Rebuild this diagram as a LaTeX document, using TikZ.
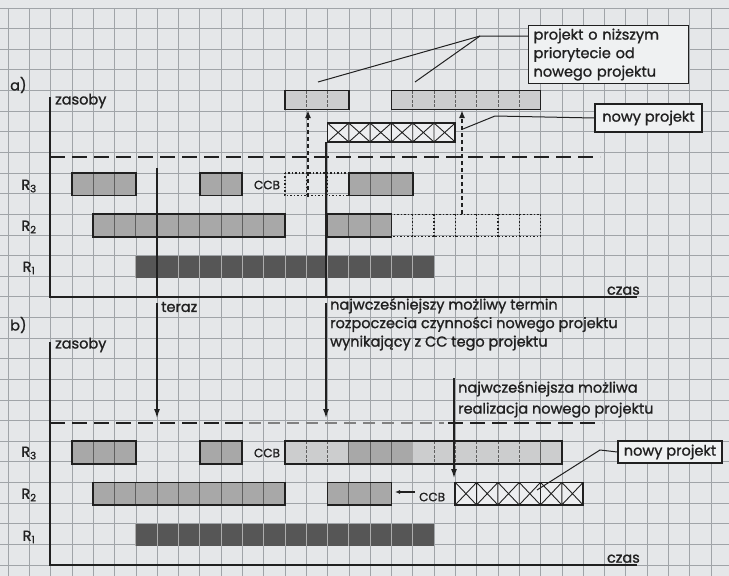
\documentclass[tikz,border=0pt]{standalone}
\usepackage{fontspec}
\setmainfont{Poppins}[FakeBold=1.2]
\usetikzlibrary{arrows.meta}
\definecolor{bgc}{RGB}{229,231,233}
\definecolor{gridc}{RGB}{160,164,168}
\definecolor{midc}{RGB}{168,168,168}
\definecolor{lowc}{RGB}{204,205,206}
\definecolor{darkc}{RGB}{86,86,86}
\definecolor{divc}{RGB}{95,95,95}
\definecolor{inkc}{RGB}{32,32,32}
\tikzset{
  gridline/.style={draw=gridc, line width=0.6pt},
  axisline/.style={draw=inkc, line width=2.2pt},
  barborder/.style={draw=inkc, line width=1.8pt},
  celldiv/.style={draw=divc, line width=0.8pt},
  darkdiv/.style={draw=gray!65, line width=0.8pt},
  lowdiv/.style={draw=divc, line width=0.8pt, dash pattern=on 3pt off 1.5pt},
  dottedbox/.style={draw=inkc, line width=1.3pt, dash pattern=on 1.5pt off 2pt},
  lvl/.style={draw=inkc, line width=2.6pt, dash pattern=on 15pt off 7pt},
  lvlgray/.style={draw=gray, line width=1.4pt, dash pattern=on 12pt off 7pt},
  leader/.style={draw=inkc, line width=1pt},
  pointer/.style={draw=inkc, line width=2pt, -{Latex[length=10pt,width=6pt]}},
  dashptr/.style={draw=inkc, line width=2.2pt, dash pattern=on 4pt off 3pt, -{Latex[length=8pt,width=6pt]}},
  lbl/.style={font=\fontsize{14.5}{18.5}\selectfont, text=inkc, inner sep=1pt},
  small/.style={font=\fontsize{12}{14}\selectfont, text=inkc, inner sep=1pt},
  callout/.style={draw=inkc, line width=1.2pt, fill=bgc!60!white, font=\fontsize{14.5}{18.5}\selectfont, text=inkc}
}
% cells: x, y, n, h, fill, divider style
\newcommand{\CellRow}[6]{%
  \fill[#5] (#1,#2) rectangle ++({#3*21.3},#4);
  \foreach \i in {1,...,#3} {\draw[#6] ({#1+(\i-1)*21.3},#2) -- ++(0,#4);}
}
\newcommand{\RowFrame}[5]{\draw[#5] (#1,#2) rectangle ++({#3*21.3},#4);}
\newcommand{\MidBar}[3]{\CellRow{#1}{#2}{#3}{22.5}{midc}{celldiv}\RowFrame{#1}{#2}{#3}{22.5}{barborder}}
\newcommand{\DarkBar}[3]{\CellRow{#1}{#2}{#3}{22.5}{darkc}{darkdiv}}
\newcommand{\LowBar}[4]{\CellRow{#1}{#2}{#3}{#4}{lowc}{lowdiv}\RowFrame{#1}{#2}{#3}{#4}{barborder}}
\newcommand{\DotBar}[3]{%
  \foreach \i in {1,...,#3} {\draw[dottedbox] ({#1+(\i-1)*21.3},#2) -- ++(0,22.5);}
  \RowFrame{#1}{#2}{#3}{22.5}{dottedbox}}
\newcommand{\CrossBar}[4]{%
  \fill[bgc!70!white] (#1,#2) rectangle ++({#3*21.3},#4);
  \foreach \i in {1,...,#3} {
    \draw[inkc, line width=0.9pt] ({#1+(\i-1)*21.3},#2) -- ++(21.3,#4)
      ({#1+\i*21.3},#2) -- ++(-21.3,#4)
      ({#1+(\i-1)*21.3},#2) -- ++(0,#4);}
  \RowFrame{#1}{#2}{#3}{#4}{barborder}}
\begin{document}
\begin{tikzpicture}[x=1pt,y=-1pt]
\useasboundingbox (0,0) rectangle (729,576);
\fill[bgc] (0,0) rectangle (729,576);
% graph paper
\foreach \k in {0,...,33} \draw[gridline] ({8+21.3*\k},8) -- ({8+21.3*\k},576);
\foreach \j in {0,...,27} \draw[gridline] (0,{7.9+20.63*\j}) -- (729,{7.9+20.63*\j});

% ================= a) =================
\node[lbl, anchor=west] (la) at (9,85) {a)};
\node[lbl, anchor=west] (zasA) at (54,101) {zasoby};
\node[lbl, anchor=south east] (czasA) at (641,296) {czas};
\node[lbl] (r3a) at (29,186) {R\textsubscript{3}};
\node[lbl] (r2a) at (29,227) {R\textsubscript{2}};
\node[lbl] (r1a) at (29,268) {R\textsubscript{1}};
% R3
\MidBar{72}{172.9}{3}
\MidBar{199.7}{172.9}{2}
\node[small] (ccbA) at (267,185) {CCB};
\DotBar{284.9}{172.9}{3}
\MidBar{348.8}{172.9}{3}
% R2
\MidBar{93.2}{214.2}{9}
\MidBar{327.5}{214.2}{3}
\DotBar{391.4}{214.2}{7}
% R1
\DarkBar{135.8}{255.5}{14}
% lower-priority project
\LowBar{284.9}{90.5}{3}{19}
\LowBar{391.4}{90.5}{7}{19}
% new project
\CrossBar{327.5}{123}{6}{19}
% level line
\coordinate (lvlAL) at (50,157);
\coordinate (lvlAR) at (600,157);
\draw[lvl] (lvlAL) -- (lvlAR);
% axes
\coordinate (axAtop) at (50,97);
\coordinate (axAo) at (50,297);
\coordinate (axAend) at (637,297);
\draw[axisline] (axAtop) -- (axAo) -- (axAend);
% vertical markers in a)
\coordinate (terazA) at (157,168);
\coordinate (terazAb) at (157,297);
\draw[draw=inkc, line width=2pt] (terazA) -- (terazAb);
\coordinate (ccA) at (326,142);
\coordinate (ccAb) at (326,297);
\draw[draw=inkc, line width=2.2pt] (ccA) -- (ccAb);
% dashed move arrows
\coordinate (mv1s) at (308,197);
\coordinate (mv1e) at (308,110);
\coordinate (mv2s) at (462,214);
\coordinate (mv2e) at (462,110);
\draw[dashptr] (mv1s) -- (mv1e);
\draw[dashptr] (mv2s) -- (mv2e);
% callouts
\node[callout, anchor=north west, text width=150pt, align=left, inner xsep=5pt, inner ysep=3pt] (lowbox) at (528,25)
  {projekt o niższym\\priorytecie od\\nowego projektu};
\coordinate (fork) at (480,36);
\coordinate (lowA) at (318,82);
\coordinate (lowB) at (415,82);
\draw[leader] (lowbox.west |- fork) -- (fork) -- (lowA);
\draw[leader] (fork) -- (lowB);
\node[callout, minimum width=107pt, minimum height=28pt, inner sep=2pt] (npA) at (648.5,118) {nowy projekt};
\coordinate (npAk) at (495,116);
\coordinate (npAe) at (463,129);
\draw[leader] (npA.west) -- (npAk) -- (npAe);

% ================= between =================
\node[lbl, anchor=west] (teraz) at (160,307) {teraz};
\node[lbl, anchor=north west, align=left] (cctext) at (329,297)
  {najwcześniejszy możliwy termin\\rozpoczecia czynności nowego projektu\\wynikający z CC tego projektu};
\coordinate (terazB0) at (157,303);
\coordinate (terazB1) at (157,419);
\draw[pointer] (terazB0) -- (terazB1);
\coordinate (ccB0) at (326,303);
\coordinate (ccB1) at (326,419);
\draw[pointer] (ccB0) -- (ccB1);

% ================= b) =================
\node[lbl, anchor=west] (lb) at (9,325) {b)};
\node[lbl, anchor=west] (zasB) at (54,345) {zasoby};
\node[lbl, anchor=south east] (czasB) at (641,564) {czas};
\node[lbl] (r3b) at (29,453) {R\textsubscript{3}};
\node[lbl] (r2b) at (29,495) {R\textsubscript{2}};
\node[lbl] (r1b) at (29,537) {R\textsubscript{1}};
% level line (mixed)
\coordinate (lvlB0) at (50,423);
\coordinate (lvlB1) at (220,423);
\coordinate (lvlB2) at (225,423);
\coordinate (lvlB3) at (243,423);
\coordinate (lvlB4) at (249,423);
\coordinate (lvlB5) at (444,423);
\coordinate (lvlB6) at (448,423);
\coordinate (lvlB7) at (602,423);
\draw[lvl] (lvlB0) -- (lvlB1);
\draw[draw=inkc, line width=2.6pt] (lvlB2) -- (lvlB3);
\draw[lvlgray] (lvlB4) -- (lvlB5);
\draw[lvl] (lvlB6) -- (lvlB7);
% R3
\MidBar{72}{441.1}{3}
\MidBar{199.7}{441.1}{2}
\node[small] (ccbB) at (267,453) {CCB};
\CellRow{284.9}{441.1}{13}{22.5}{lowc}{lowdiv}
\CellRow{348.8}{441.1}{3}{22.5}{midc}{celldiv}
\RowFrame{284.9}{441.1}{13}{22.5}{barborder}
\draw[celldiv, line width=1.4pt] (540.5,441.1) -- ++(0,22.5);
% R2
\MidBar{93.2}{482.4}{9}
\MidBar{327.5}{482.4}{3}
\coordinate (ccbArrS) at (415,492);
\coordinate (ccbArrE) at (395,492);
\draw[draw=inkc, line width=1.5pt, -{Latex[length=5pt,width=4pt]}] (ccbArrS) -- (ccbArrE);
\node[small, anchor=west] (ccbB2) at (418,497) {CCB};
\CrossBar{455.3}{482.4}{6}{22.5}
% R1
\DarkBar{135.8}{523.7}{14}
% axes
\coordinate (axBtop) at (50,342);
\coordinate (axBo) at (50,565);
\coordinate (axBend) at (637,565);
\draw[axisline] (axBtop) -- (axBo) -- (axBend);
% earliest realisation
\node[lbl, anchor=north west, align=left, font=\fontsize{14.5}{21}\selectfont] (realtext) at (457,380)
  {najwcześniejsza możliwa\\realizacja nowego projektu};
\coordinate (real0) at (454,378);
\coordinate (real1) at (454,479);
\draw[pointer] (real0) -- (real1);
% new project callout
\node[callout, minimum width=104pt, minimum height=22pt, inner sep=2pt] (npB) at (670,452) {nowy projekt};
\coordinate (npBk) at (600,450);
\coordinate (npBe) at (537,490);
\draw[leader] (npB.west) -- (npBk) -- (npBe);
\end{tikzpicture}
\end{document}
